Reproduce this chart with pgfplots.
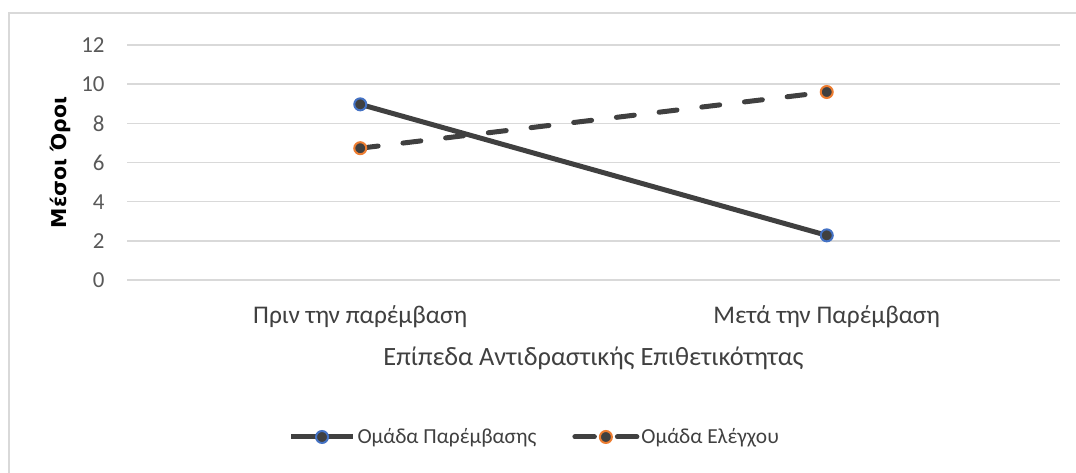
\documentclass[border=0pt]{standalone}
\usepackage{fontspec}
\setmainfont{Carlito}
\newfontfamily\ylabf{DejaVu Sans}
\usepackage{pgfplots}
\pgfplotsset{compat=1.18}
\pgfplotsset{dashleg/.style={legend image code/.code={\draw[##1, dash pattern=on 19.5bp off 23bp, mark repeat=2, mark phase=2] plot coordinates {(0bp,0bp) (31bp,0bp) (62bp,0bp)};}}}
\definecolor{gridc}{HTML}{D9D9D9}
\definecolor{linec}{HTML}{404040}
\definecolor{tickc}{HTML}{595959}
\definecolor{blueo}{HTML}{4472C4}
\definecolor{orangeo}{HTML}{ED7D31}
\begin{document}
\begin{tikzpicture}[x=1bp,y=1bp]
\useasboundingbox (0,0) rectangle (1076,-473);
\draw[gridc, line width=2bp] (8.5,-475) -- (8.5,-13) -- (1078,-13);
\begin{axis}[
  at={(127bp,-280bp)}, anchor=south west,
  scale only axis, width=933bp, height=235bp,
  xmin=-0.5, xmax=1.5, ymin=0, ymax=12,
  ytick={0,2,4,6,8,10,12},
  xtick={0,1},
  xticklabels={Πριν την παρέμβαση, Μετά την Παρέμβαση},
  ymajorgrids, grid style={gridc, line width=1.4bp},
  axis line style={draw=none}, tick style={draw=none},
  /pgf/number format/assume math mode=true,
  yticklabel style={font=\fontsize{23}{26}\selectfont, text=tickc, xshift=-19bp},
  xticklabel style={font=\fontsize{25.5}{30}\selectfont, text=linec, yshift=-22bp},
  xlabel={Επίπεδα Αντιδραστικής Επιθετικότητας},
  xlabel style={at={(axis description cs:0.5,0)}, anchor=center, yshift=-78bp, font=\fontsize{26.5}{31}\selectfont, text=linec},
  ylabel={Μέσοι Όροι},
  ylabel style={at={(axis description cs:-0.0718,0.5)}, anchor=center, font=\ylabf\bfseries\fontsize{20.5}{24}\selectfont, text=black},
  clip=false,
  legend columns=2,
  legend style={at={(axis description cs:0.437,-0.668)}, anchor=center, draw=none, fill=none,
    font=\fontsize{21.5}{26}\selectfont, text=linec,
    /tikz/every even column/.append style={column sep=34bp}},
  legend image code/.code={\draw[#1, mark repeat=2, mark phase=2] plot coordinates {(0bp,0bp) (31bp,0bp) (62bp,0bp)};},
]
\addplot[linec, line width=5bp, mark=*, mark size=6bp, mark options={solid, fill=linec, draw=blueo, line width=2bp}]
  coordinates {(0,8.97) (1,2.28)};
\addlegendentry{Ομάδα Παρέμβασης}
\addplot[linec, line width=5bp, dash pattern=on 18bp off 25bp, line cap=round, mark=*, mark size=6bp, mark options={solid, fill=linec, draw=orangeo, line width=2bp}, dashleg]
  coordinates {(0,6.73) (1,9.6)};
\addlegendentry{Ομάδα Ελέγχου}
\end{axis}
\end{tikzpicture}
\end{document}
